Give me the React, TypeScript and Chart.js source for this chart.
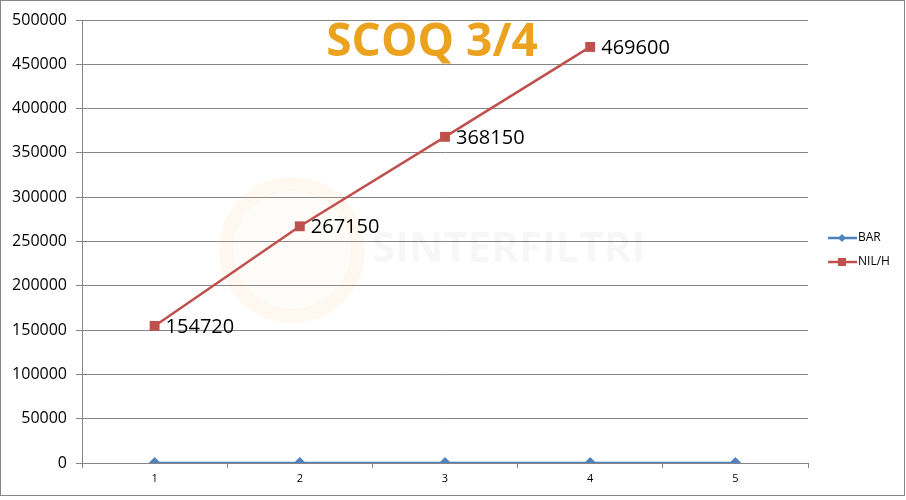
import React, { useEffect, useRef } from "react";
import { Chart, registerables } from "chart.js";

Chart.register(...registerables);

const categories = ["1", "2", "3", "4", "5"];
const barValues = [0, 0, 0, 0, 0];
const nilValues: (number | null)[] = [154720, 267150, 368150, 469600, null];
const seriesNames = ["BAR", "NIL/H"];
const titleText = "SCOQ 3/4";
const watermarkText = "SINTERFILTRI";

const BLUE = "#4F81BD";
const RED = "#C0504D";

const decorPlugin = {
  id: "decor",
  beforeDatasetsDraw(chart: any) {
    const ctx = chart.ctx;
    ctx.save();
    // faint watermark
    ctx.strokeStyle = "rgba(245,190,120,0.10)";
    ctx.lineWidth = 14;
    ctx.beginPath();
    ctx.arc(292, 250, 66, 0, Math.PI * 2);
    ctx.stroke();
    ctx.fillStyle = "rgba(245,190,120,0.05)";
    ctx.beginPath();
    ctx.arc(292, 250, 60, 0, Math.PI * 2);
    ctx.fill();
    ctx.font = "bold 42px 'Open Sans'";
    ctx.fillStyle = "rgba(0,0,0,0.03)";
    ctx.textBaseline = "middle";
    ctx.textAlign = "left";
    ctx.fillText(watermarkText, 372, 250);
    ctx.restore();
  },
  afterDatasetsDraw(chart: any) {
    const ctx = chart.ctx;
    ctx.save();
    // data labels for NIL/H
    const meta = chart.getDatasetMeta(1);
    ctx.font = "20px 'Open Sans'";
    ctx.fillStyle = "#000";
    ctx.textBaseline = "middle";
    ctx.textAlign = "left";
    meta.data.forEach((pt: any, i: number) => {
      const v = nilValues[i];
      if (v == null) return;
      ctx.fillText(String(v), pt.x + 11, pt.y + 1);
    });

    // title
    ctx.font = "bold 46px 'Open Sans'";
    ctx.fillStyle = "#EBA21E";
    ctx.textAlign = "center";
    ctx.textBaseline = "alphabetic";
    ctx.fillText(titleText, 432, 56);

    // legend
    const items = [
      { name: seriesNames[0], color: BLUE, y: 238, shape: "diamond" },
      { name: seriesNames[1], color: RED, y: 262, shape: "square" },
    ];
    ctx.font = "12px 'Open Sans'";
    ctx.textAlign = "left";
    ctx.textBaseline = "middle";
    items.forEach((it) => {
      ctx.strokeStyle = it.color;
      ctx.lineWidth = 2.5;
      ctx.beginPath();
      ctx.moveTo(828, it.y);
      ctx.lineTo(857, it.y);
      ctx.stroke();
      ctx.fillStyle = it.color;
      if (it.shape === "diamond") {
        ctx.beginPath();
        ctx.moveTo(842, it.y - 4);
        ctx.lineTo(846, it.y);
        ctx.lineTo(842, it.y + 4);
        ctx.lineTo(838, it.y);
        ctx.closePath();
        ctx.fill();
      } else {
        ctx.fillRect(838, it.y - 4, 8, 8);
      }
      ctx.fillStyle = "#000";
      ctx.fillText(it.name, 858, it.y);
    });

    // outer border
    ctx.strokeStyle = "#868686";
    ctx.lineWidth = 1;
    ctx.strokeRect(0.5, 0.5, 904, 495);
    ctx.restore();
  },
};

export default function App() {
  const ref = useRef<HTMLCanvasElement>(null);
  useEffect(() => {
    document.body.style.margin = "0";
    const chart = new Chart(ref.current!, {
      type: "line",
      data: {
        labels: categories,
        datasets: [
          {
            label: seriesNames[0],
            data: barValues,
            borderColor: BLUE,
            backgroundColor: BLUE,
            borderWidth: 2.5,
            pointStyle: "rectRot",
            pointRadius: 6,
            pointBorderWidth: 0,
            pointBackgroundColor: BLUE,
          },
          {
            label: seriesNames[1],
            data: nilValues,
            borderColor: RED,
            backgroundColor: RED,
            borderWidth: 2.5,
            pointStyle: "rect",
            pointRadius: 7,
            pointBorderWidth: 0,
            pointBackgroundColor: RED,
          },
        ],
      },
      options: {
        responsive: false,
        animation: false,
        layout: { padding: { left: 0, right: 98, top: 20, bottom: 0 } },
        plugins: {
          legend: { display: false },
          tooltip: { enabled: false },
          title: { display: false },
        },
        scales: {
          x: {
            offset: true,
            grid: {
              offset: true,
              drawOnChartArea: false,
              tickLength: 5,
              color: "#868686",
            },
            border: { color: "#868686" },
            ticks: {
              color: "#000",
              font: { family: "'Open Sans'", size: 11 },
              padding: 4,
              maxRotation: 0,
            },
            afterFit: (s: any) => {
              s.height = 37;
            },
          },
          y: {
            min: 0,
            max: 500000,
            grid: { color: "#868686", tickLength: 6 },
            border: { color: "#868686" },
            ticks: {
              stepSize: 50000,
              color: "#000",
              font: { family: "'Open Sans'", size: 16 },
              padding: 9,
              callback: (v: any) => String(v),
            },
            afterFit: (s: any) => {
              s.width = 82;
            },
          },
        },
      },
      plugins: [decorPlugin],
    });
    return () => chart.destroy();
  }, []);
  return <canvas ref={ref} width={906} height={500} />;
}
